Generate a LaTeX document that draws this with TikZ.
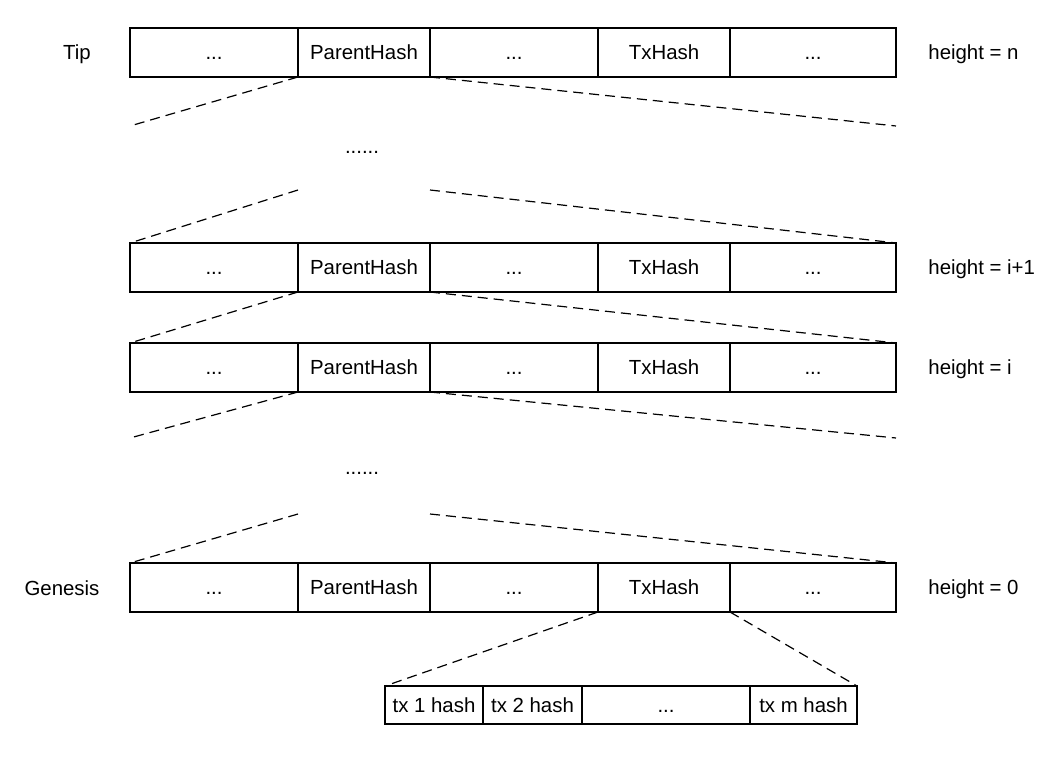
\documentclass[tikz,border=0pt]{standalone}
\usepackage{fontspec}
\setmainfont{Liberation Sans}
\usetikzlibrary{positioning}

\tikzset{
  cell/.style={draw, line width=0.7pt, minimum height=24.5pt, inner sep=0pt, outer sep=0pt, text height=7.3pt, text depth=0pt, font=\fontsize{10.2}{12}\selectfont},
  txcell/.style={cell, minimum height=19pt},
  link/.style={dash pattern=on 5pt off 3pt, line width=0.6pt},
  lbl/.style={inner sep=0pt, text height=7.3pt, text depth=0pt, font=\fontsize{10.2}{12}\selectfont},
}

\begin{document}
\begin{tikzpicture}[x=0.5pt, y=-0.5pt]
	\useasboundingbox (0,0) rectangle (1060,764);
	% block rows
	\foreach \row/\ytop/\hgt in {tip/28/n, ip/243/i+1, ii/343/i, gen/563/0} {
		\node[cell, minimum width=84pt, anchor=north west] (\row-a) at (130,\ytop) {...};
		\node[cell, minimum width=66pt, right=0pt of \row-a] (\row-b) {ParentHash};
		\node[cell, minimum width=84pt, right=0pt of \row-b] (\row-c) {...};
		\node[cell, minimum width=66pt, right=0pt of \row-c] (\row-d) {TxHash};
		\node[cell, minimum width=83pt, right=0pt of \row-d] (\row-e) {...};
		\node[lbl, anchor=west] (\row-h) at (928,{\ytop+24}) {height = \hgt};
	}
	\node[lbl] (tip-name) at (77,52) {Tip};
	\node[lbl] (gen-name) at (62,588) {Genesis};
	\node[lbl] (gap1) at (362,146) {......};
	\node[lbl] (gap2) at (362,467) {......};
	% transactions of genesis
	\node[txcell, minimum width=49pt, anchor=north west] (tx1) at (385,686) {tx 1 hash};
	\node[txcell, minimum width=49.5pt, right=0pt of tx1] (tx2) {tx 2 hash};
	\node[txcell, minimum width=84pt, right=0pt of tx2] (txd) {...};
	\node[txcell, minimum width=53.5pt, right=0pt of txd] (txm) {tx m hash};
	% free ends
	\coordinate (tip-l) at (130,126);
	\coordinate (tip-r) at (896,126);
	\coordinate (gap1-l) at (298,190);
	\coordinate (gap1-r) at (430,190);
	\coordinate (ii-l) at (130,438);
	\coordinate (ii-r) at (896,438);
	\coordinate (gap2-l) at (298,514);
	\coordinate (gap2-r) at (430,514);
	% links
	\draw[link] (tip-b.south west) -- (tip-l);
	\draw[link] (tip-b.south east) -- (tip-r);
	\draw[link] (gap1-l) -- (ip-a.north west);
	\draw[link] (gap1-r) -- (ip-e.north east);
	\draw[link] (ip-b.south west) -- (ii-a.north west);
	\draw[link] (ip-b.south east) -- (ii-e.north east);
	\draw[link] (ii-b.south west) -- (ii-l);
	\draw[link] (ii-b.south east) -- (ii-r);
	\draw[link] (gap2-l) -- (gen-a.north west);
	\draw[link] (gap2-r) -- (gen-e.north east);
	\draw[link] (gen-d.south west) -- (tx1.north west);
	\draw[link] (gen-d.south east) -- (txm.north east);
\end{tikzpicture}
\end{document}
